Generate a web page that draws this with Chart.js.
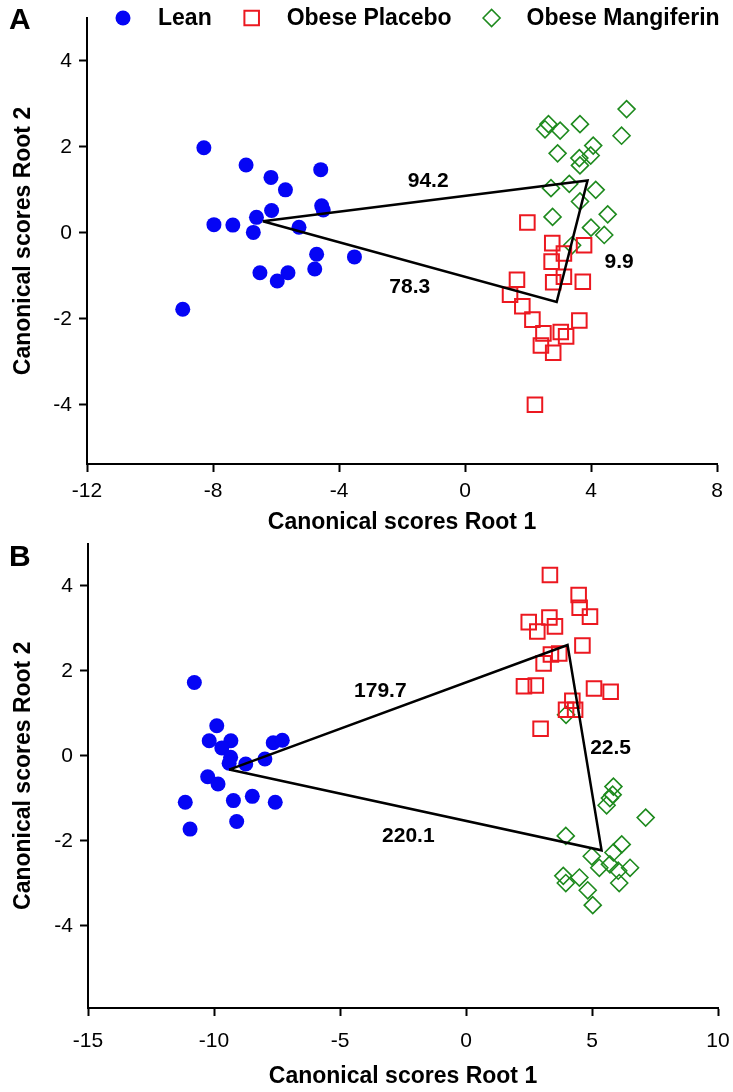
<!DOCTYPE html>
<html><head><meta charset="utf-8">
<script src="https://cdn.jsdelivr.net/npm/chart.js@4.4.1/dist/chart.umd.min.js"></script>
<style>
html,body{margin:0;padding:0;background:#fff;}
body{width:733px;height:1092px;position:relative;overflow:hidden;}
.wrap{position:absolute;left:0;width:733px;}
#wa{top:0;height:545px;z-index:2;}
#wb{top:530px;height:562px;z-index:1;}
.tag{position:absolute;left:9px;font:bold 30px 'Liberation Sans', Arial, sans-serif;color:#000;line-height:1;z-index:3;}
</style></head><body>
<div class="wrap" id="wa"><canvas id="ca" width="733" height="545"></canvas></div>
<div class="wrap" id="wb"><canvas id="cb" width="733" height="562"></canvas></div>
<div class="tag" style="top:4px">A</div>
<div class="tag" style="top:541px">B</div>
<script>
// ---------- data ----------
const groups = ['Lean', 'Obese Placebo', 'Obese Mangiferin'];
const xTitle = 'Canonical scores Root 1';
const yTitle = 'Canonical scores Root 2';

// Panel A
const xTicksA = [-12, -8, -4, 0, 4, 8];
const yTicksA = [-4, -2, 0, 2, 4];
const leanAx = [-8.29,-6.95,-6.16,-4.58,-5.70,-6.14,-4.55,-4.50,-6.62,-7.97,-7.37,-6.72,-5.27,-4.71,-3.51,-4.77,-6.51,-5.62,-5.96,-8.96];
const leanAy = [1.98,1.58,1.29,1.47,1.00,0.52,0.63,0.53,0.36,0.19,0.18,0.01,0.13,-0.50,-0.56,-0.84,-0.93,-0.93,-1.12,-1.78];
const placeboAx = [1.98,2.77,3.78,3.14,2.75,3.14,2.80,3.74,1.65,1.43,1.82,2.14,3.63,2.49,3.04,3.21,2.41,2.80,2.22];
const placeboAy = [0.24,-0.24,-0.29,-0.48,-0.67,-1.02,-1.15,-1.14,-1.09,-1.44,-1.71,-2.02,-2.04,-2.34,-2.31,-2.41,-2.62,-2.79,-4.00];
const mangAx = [5.13,2.65,2.54,3.02,3.65,4.97,2.94,4.07,3.99,3.63,3.65,2.73,3.31,4.15,3.65,2.78,4.53,4.00,4.42,3.40];
const mangAy = [2.88,2.53,2.41,2.38,2.53,2.26,1.85,2.03,1.80,1.74,1.57,1.04,1.14,1.00,0.73,0.37,0.43,0.12,-0.05,-0.29];
// group centroids A: Lean, Mangiferin, Placebo
const centAx = [-6.42, 3.89, 2.91];
const centAy = [0.27, 1.22, -1.61];
const distA = ['94.2', '9.9', '78.3'];   // edges L-M, M-P, P-L

// Panel B
const xTicksB = [-15, -10, -5, 0, 5, 10];
const yTicksB = [-4, -2, 0, 2, 4];
const leanBx = [-10.78,-9.89,-10.19,-9.33,-9.69,-9.34,-9.40,-8.74,-7.98,-7.65,-7.29,-10.25,-9.84,-11.14,-9.23,-8.48,-7.57,-9.10,-10.95];
const leanBy = [1.73,0.71,0.36,0.36,0.19,-0.03,-0.17,-0.19,-0.07,0.31,0.37,-0.49,-0.66,-1.09,-1.05,-0.95,-1.09,-1.54,-1.72];
const placeboBx = [3.33,4.47,4.51,4.92,2.49,3.31,3.53,2.83,4.62,3.70,3.37,3.08,2.30,2.77,5.08,5.74,4.22,4.33,3.97,2.96];
const placeboBy = [4.26,3.79,3.49,3.28,3.15,3.26,3.05,2.93,2.60,2.41,2.39,2.18,1.64,1.66,1.59,1.51,1.30,1.09,1.09,0.64];
const mangBx = [3.97,5.85,5.82,5.71,5.58,7.13,3.96,6.18,5.85,4.99,5.29,5.71,6.04,6.51,3.86,4.50,3.96,6.08,4.83,5.03];
const mangBy = [0.97,-0.72,-0.91,-0.99,-1.16,-1.45,-1.88,-2.08,-2.27,-2.36,-2.63,-2.55,-2.70,-2.63,-2.82,-2.86,-2.99,-2.99,-3.16,-3.51];
// group centroids B: Lean, Placebo, Mangiferin
const centBx = [-9.40, 4.03, 5.38];
const centBy = [-0.32, 2.61, -2.22];
const distB = ['179.7', '22.5', '220.1'];  // edges L-P, P-M, M-L

// ---------- styles ----------
const FONT = "'Liberation Sans', Arial, sans-serif";
const styles = [
  {pointStyle:'circle', radius:7.5, backgroundColor:'#0505f5', borderColor:'#0505f5', borderWidth:0},
  {pointStyle:'rect', radius:10.3, backgroundColor:'rgba(0,0,0,0)', borderColor:'#ec1820', borderWidth:2},
  {pointStyle:'rectRot', radius:8.5, backgroundColor:'rgba(0,0,0,0)', borderColor:'#1e8a1e', borderWidth:1.6}
];

function pts(xs, ys){ return xs.map((x,i)=>({x:x, y:ys[i]})); }
function closed(xs, ys){ const p = pts(xs, ys); p.push(p[0]); return p; }

function groupDataset(i, data){
  const s = styles[i];
  return {label:groups[i], data:data, showLine:false, order:1,
    pointStyle:s.pointStyle, pointRadius:s.radius, pointHoverRadius:s.radius,
    pointBackgroundColor:s.backgroundColor, pointBorderColor:s.borderColor,
    pointBorderWidth:s.borderWidth, backgroundColor:s.backgroundColor, borderColor:s.borderColor};
}

const legendPlugin = {
  id:'customLegend',
  afterDraw(chart, args, opts){
    if(!opts.show) return;
    const ctx = chart.ctx;
    ctx.save();
    ctx.font = 'bold 23px ' + FONT;
    ctx.textBaseline = 'middle';
    let x = opts.x; const y = opts.y;
    groups.forEach((g,i)=>{
      const s = styles[i];
      ctx.fillStyle = s.backgroundColor; ctx.strokeStyle = s.borderColor; ctx.lineWidth = s.borderWidth;
      Chart.helpers.drawPoint(ctx, {pointStyle:s.pointStyle, radius:s.radius, rotation:0, borderWidth:s.borderWidth}, x, y);
      ctx.fillStyle = '#000';
      const tx = x + 35;
      ctx.fillText(g, tx, y + 1);
      x = tx + ctx.measureText(g).width + 40;
    });
    ctx.restore();
  }
};

const edgeLabelPlugin = {
  id:'edgeLabels',
  afterDatasetsDraw(chart, args, opts){
    const ctx = chart.ctx, xs = chart.scales.x, ys = chart.scales.y;
    const cx = opts.cx, cy = opts.cy;
    ctx.save();
    ctx.font = 'bold 21px ' + FONT;
    ctx.textAlign = 'center'; ctx.textBaseline = 'middle'; ctx.fillStyle = '#000';
    opts.labels.forEach((t,i)=>{
      const j = (i+1) % cx.length;
      const mx = (xs.getPixelForValue(cx[i]) + xs.getPixelForValue(cx[j]))/2;
      const my = (ys.getPixelForValue(cy[i]) + ys.getPixelForValue(cy[j]))/2;
      ctx.fillText(t, mx + opts.offsets[i][0], my + opts.offsets[i][1]);
    });
    ctx.restore();
  }
};

function axisCommon(ticksArr, min, max, title, fitProp, fitVal, titlePad, tickPad){
  return {
    type:'linear', min:min, max:max,
    afterBuildTicks: s => { s.ticks = ticksArr.map(v=>({value:v})); },
    afterFit: s => {
      s[fitProp] = fitVal;
      s.paddingTop = 0; s.paddingBottom = 0; s.paddingLeft = 0; s.paddingRight = 0;
    },
    border:{display:true, color:'#000', width:2},
    grid:{display:true, drawOnChartArea:false, drawTicks:true, tickLength:8, tickWidth:2, color:'#000', tickColor:'#000'},
    ticks:{color:'#000', font:{family:FONT, size:21}, padding:tickPad, maxRotation:0, autoSkip:false},
    title:{display:true, text:title, color:'#000', font:{family:FONT, size:23, weight:'bold'}, padding:titlePad}
  };
}

function makeChart(id, cfg){
  return new Chart(document.getElementById(id), {
    type:'scatter',
    data:{datasets:[
      {label:'triangle', data:cfg.tri, showLine:true, borderColor:'#000', borderWidth:2.5, pointRadius:0, pointHoverRadius:0, fill:false, order:-1, tension:0},
      groupDataset(0, cfg.lean), groupDataset(1, cfg.placebo), groupDataset(2, cfg.mang)
    ]},
    options:{
      responsive:false, animation:false, events:[],
      layout:{padding:cfg.padding},
      plugins:{legend:{display:false}, tooltip:{enabled:false},
        customLegend:cfg.legend, edgeLabels:cfg.edge},
      scales:{
        x: axisCommon(cfg.xTicks, cfg.xMin, cfg.xMax, xTitle, 'height', cfg.xH, {top:0, bottom:cfg.xTitlePad}, cfg.xTickPad),
        y: axisCommon(cfg.yTicks, cfg.yMin, cfg.yMax, yTitle, 'width', cfg.yW, {top:10, bottom:0}, 7)
      }
    },
    plugins:[legendPlugin, edgeLabelPlugin]
  });
}

makeChart('ca', {
  tri: closed(centAx, centAy),
  lean: pts(leanAx, leanAy), placebo: pts(placeboAx, placeboAy), mang: pts(mangAx, mangAy),
  xTicks:xTicksA, yTicks:yTicksA, xMin:-12, xMax:8, yMin:-5.38, yMax:5,
  padding:{top:18, right:16, left:0, bottom:0}, xH:81, yW:87, xTitlePad:9, xTickPad:7,
  legend:{show:true, x:123, y:18},
  edge:{cx:centAx, cy:centAy, labels:distA, offsets:[[3,-20],[47,21],[0,26]]}
});

makeChart('cb', {
  tri: closed(centBx, centBy),
  lean: pts(leanBx, leanBy), placebo: pts(placeboBx, placeboBy), mang: pts(mangBx, mangBy),
  xTicks:xTicksB, yTicks:yTicksB, xMin:-15, xMax:10, yMin:-5.93, yMax:5,
  padding:{top:13.5, right:15, left:0, bottom:0}, xH:84, yW:88, xTitlePad:2, xTickPad:13,
  legend:{show:false},
  edge:{cx:centBx, cy:centBy, labels:distB, offsets:[[-18,-16],[26,1],[-7,26]]}
});
</script>
</body></html>
